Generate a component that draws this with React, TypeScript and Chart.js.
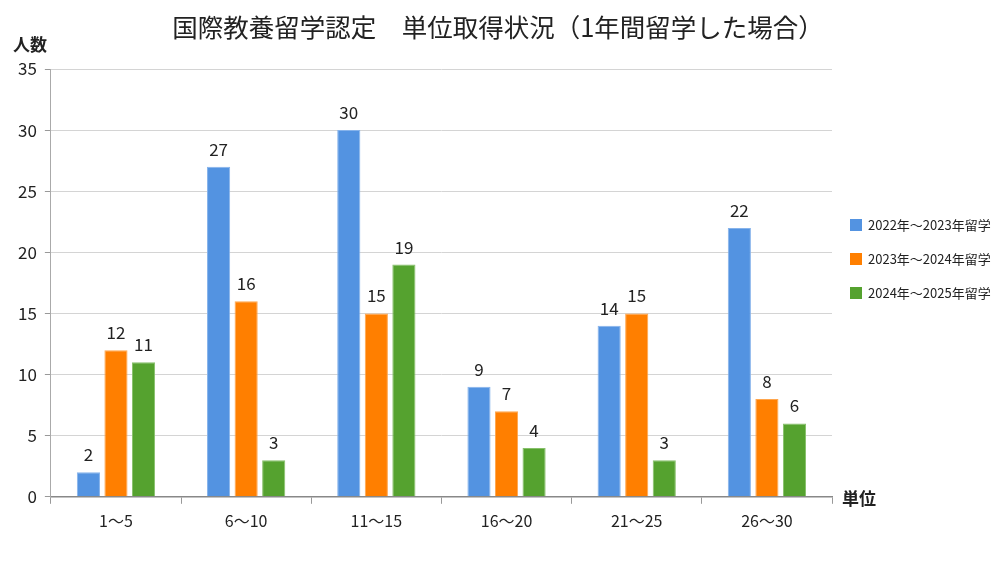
import React, { useEffect, useRef } from "react";
import { Chart, registerables } from "chart.js";

Chart.register(...registerables);

const categories = ["1～5", "6～10", "11～15", "16～20", "21～25", "26～30"];
const seriesNames = ["2022年～2023年留学", "2023年～2024年留学", "2024年～2025年留学"];
const values2022 = [2, 27, 30, 9, 14, 22];
const values2023 = [12, 16, 15, 7, 15, 8];
const values2024 = [11, 3, 19, 4, 3, 6];

const TITLE = "国際教養留学認定　単位取得状況（1年間留学した場合）";
const FONT = "'Noto Sans CJK JP', 'Noto Sans', sans-serif";

const extrasPlugin = {
  id: "extras",
  afterDatasetsDraw(chart: any) {
    const ctx = chart.ctx;
    ctx.save();
    ctx.fillStyle = "#222";
    ctx.font = `17px ${FONT}`;
    ctx.textAlign = "center";
    ctx.textBaseline = "bottom";
    chart.data.datasets.forEach((ds: any, i: number) => {
      chart.getDatasetMeta(i).data.forEach((bar: any, j: number) => {
        ctx.fillText(String(ds.data[j]), bar.x, bar.y - 9);
      });
    });

    const area = chart.chartArea;
    // title
    ctx.font = `25.5px ${FONT}`;
    ctx.textBaseline = "middle";
    ctx.fillText(TITLE, 498, 27);

    // axis captions
    ctx.font = `bold 17px ${FONT}`;
    ctx.textAlign = "left";
    ctx.fillText("人数", 13, area.top - 24);
    ctx.fillText("単位", area.right + 10, area.bottom + 2);

    // legend
    ctx.font = `13px ${FONT}`;
    chart.data.datasets.forEach((ds: any, i: number) => {
      const y = 225 + i * 34;
      ctx.fillStyle = ds.backgroundColor;
      ctx.fillRect(850, y - 6, 12, 12);
      ctx.fillStyle = "#222";
      ctx.fillText(ds.label, 868, y);
    });
    ctx.restore();
  },
};

export default function App() {
  const canvasRef = useRef<HTMLCanvasElement | null>(null);

  useEffect(() => {
    if (!canvasRef.current) return;
    const chart = new Chart(canvasRef.current, {
      type: "bar",
      data: {
        labels: categories,
        datasets: [
          {
            label: seriesNames[0],
            data: values2022,
            backgroundColor: "#5393E1",
            borderColor: "#86B3EB",
            borderWidth: 1,
          },
          {
            label: seriesNames[1],
            data: values2023,
            backgroundColor: "#FF7F00",
            borderColor: "#FFA64D",
            borderWidth: 1,
          },
          {
            label: seriesNames[2],
            data: values2024,
            backgroundColor: "#55A22F",
            borderColor: "#86C06A",
            borderWidth: 1,
          },
        ],
      },
      options: {
        animation: false,
        responsive: true,
        maintainAspectRatio: false,
        datasets: {
          bar: { categoryPercentage: 0.635, barPercentage: 0.84 },
        },
        layout: { padding: { left: 10, right: 168, top: 69, bottom: 24 } },
        plugins: {
          legend: { display: false },
          tooltip: { enabled: false },
          title: { display: false },
        },
        scales: {
          x: {
            grid: {
              offset: true,
              drawOnChartArea: false,
              tickLength: 7,
              color: "#999",
            },
            border: { color: "#888", width: 1.5 },
            ticks: {
              color: "#222",
              padding: 8,
              font: { family: FONT, size: 16 },
            },
          },
          y: {
            min: 0,
            max: 35,
            ticks: {
              stepSize: 5,
              color: "#222",
              padding: 8,
              font: { family: FONT, size: 17 },
            },
            grid: { color: "#d4d4d4", tickLength: 6, tickColor: "#999" },
            border: { color: "#aaa" },
          },
        },
      },
      plugins: [extrasPlugin],
    });
    return () => chart.destroy();
  }, []);

  return (
    <div
      style={{
        position: "fixed",
        left: 0,
        top: 0,
        width: 1000,
        height: 563,
        background: "#fff",
      }}
    >
      <canvas ref={canvasRef} />
    </div>
  );
}
